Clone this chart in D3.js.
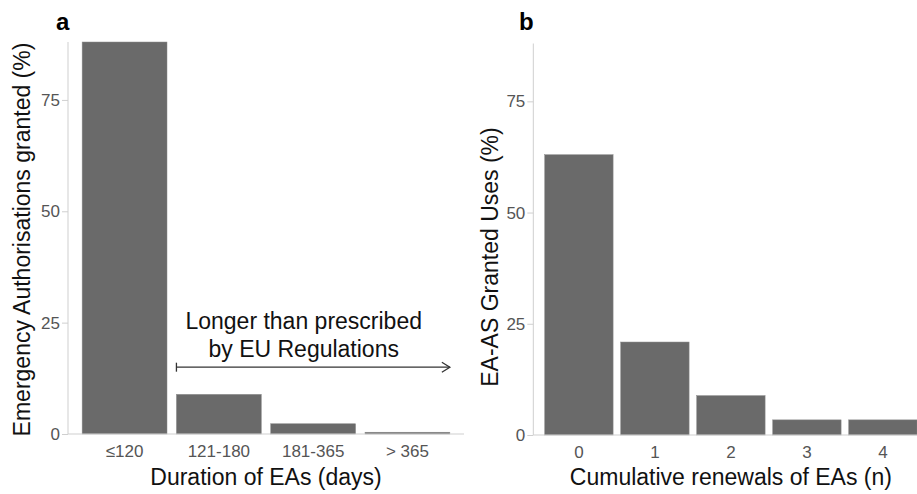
<!DOCTYPE html>
<html>
<head>
<meta charset="utf-8">
<script src="https://cdn.jsdelivr.net/npm/d3@7"></script>
<style>
  body { margin: 0; background: #fff; }
  svg { display: block; font-family: "Liberation Sans", Arial, Helvetica, sans-serif; }
</style>
</head>
<body>
<svg id="chart" width="917" height="494"></svg>
<script>
// Panel a: share of emergency authorisations by duration class
const durationCategories = ["≤120", "121-180", "181-365", "> 365"];
const durationValues = [88, 8.9, 2.3, 0.4];

// Panel b: share of granted uses by number of cumulative renewals
const renewalCategories = ["0", "1", "2", "3", "4"];
const renewalValues = [63, 20.9, 8.85, 3.4, 3.4];

const yTicks = [0, 25, 50, 75];
const yMax = 88;

// Annotation on panel a
const annotationLines = ["Longer than prescribed", "by EU Regulations"];
const arrowY = 15;

const svg = d3.select("#chart");
const barFill = "#6a6a6a";
const axisColor = "#cfcfcf";
const tickText = "#555555";

function panel(cfg) {
  const g = svg.append("g");
  const x = d3.scaleBand()
    .domain(cfg.categories)
    .range([cfg.left, cfg.right])
    .paddingInner(0.1)
    .paddingOuter(0.15);
  const y = d3.scaleLinear().domain([0, yMax]).range([cfg.bottom, cfg.top]);

  // bars
  g.selectAll("rect.bar")
    .data(cfg.values)
    .join("rect")
    .attr("class", "bar")
    .attr("x", (d, i) => x(cfg.categories[i]))
    .attr("width", x.bandwidth())
    .attr("y", d => y(d))
    .attr("height", d => y(0) - y(d))
    .attr("fill", barFill)
    .attr("stroke", "#8a8a8a")
    .attr("stroke-width", 0.5);

  // y axis
  const yAxis = d3.axisLeft(y).tickValues(yTicks).tickSize(6).tickPadding(2);
  const ya = g.append("g").attr("transform", `translate(${cfg.left},0)`).call(yAxis);
  ya.select(".domain").attr("stroke", axisColor).attr("d", `M0,${cfg.bottom}V${cfg.top}`);
  ya.selectAll(".tick line").attr("stroke", axisColor);
  ya.selectAll(".tick text")
    .attr("fill", tickText)
    .style("font-size", "17px")
    .style("font-family", "Liberation Sans, Arial, sans-serif");

  // x axis
  const xAxis = d3.axisBottom(x).tickSize(0).tickPadding(11);
  const xa = g.append("g").attr("transform", `translate(0,${cfg.bottom})`).call(xAxis);
  xa.select(".domain").attr("stroke", axisColor).attr("d", `M${cfg.left},0H${cfg.right}`);
  xa.selectAll(".tick text")
    .attr("fill", tickText)
    .attr("dy", "0")
    .attr("y", 23)
    .style("font-size", "17px")
    .style("font-family", "Liberation Sans, Arial, sans-serif");

  // axis titles
  g.append("text")
    .attr("x", (cfg.left + cfg.right) / 2)
    .attr("y", 485)
    .attr("text-anchor", "middle")
    .attr("fill", "#111")
    .style("font-size", "23px")
    .text(cfg.xTitle);

  g.append("text")
    .attr("transform", `translate(${cfg.yTitleX},${cfg.yTitleY}) rotate(-90)`)
    .attr("text-anchor", "middle")
    .attr("fill", "#111")
    .style("font-size", "23px")
    .text(cfg.yTitle);

  // panel tag
  g.append("text")
    .attr("x", cfg.tagX)
    .attr("y", 30)
    .attr("fill", "#000")
    .style("font-size", "24px")
    .style("font-weight", "bold")
    .text(cfg.tag);

  return { g, x, y };
}

const pa = panel({
  categories: durationCategories, values: durationValues,
  left: 68, right: 464, top: 42, bottom: 434,
  xTitle: "Duration of EAs (days)",
  yTitle: "Emergency Authorisations granted (%)",
  yTitleX: 30, yTitleY: 239.5,
  tag: "a", tagX: 56
});

panel({
  categories: renewalCategories, values: renewalValues,
  left: 533.3, right: 928.5, top: 43.5, bottom: 435,
  xTitle: "Cumulative renewals of EAs (n)",
  yTitle: "EA-AS Granted Uses (%)",
  yTitleX: 498, yTitleY: 257,
  tag: "b", tagX: 519
});

// Annotation: bracketed arrow spanning the durations beyond the prescribed limit
const ax = pa.x, ay = pa.y;
const x0 = ax("121-180");
const x1 = ax("> 365") + ax.bandwidth();
const yArr = ay(arrowY);
const ann = pa.g.append("g").attr("stroke", "#333").attr("stroke-width", 1.3).attr("fill", "none");
ann.append("line").attr("x1", x0).attr("x2", x1).attr("y1", yArr).attr("y2", yArr);
ann.append("line").attr("x1", x0).attr("x2", x0).attr("y1", yArr - 4.5).attr("y2", yArr + 4.5);
ann.append("path").attr("d", `M${x1 - 8},${yArr - 5}L${x1},${yArr}L${x1 - 8},${yArr + 5}`);

// Text centred between the 121-180 and 181-365 classes (continuous position 2.9)
const textX = ax.range()[0] + ax.step() * (2.9 - 0.4);
const annText = pa.g.append("text")
  .attr("text-anchor", "middle")
  .attr("fill", "#111")
  .style("font-size", "23px");
annotationLines.forEach((line, i) => {
  annText.append("tspan").attr("x", textX).attr("y", 329 + i * 27.5).text(line);
});
</script>
</body>
</html>
